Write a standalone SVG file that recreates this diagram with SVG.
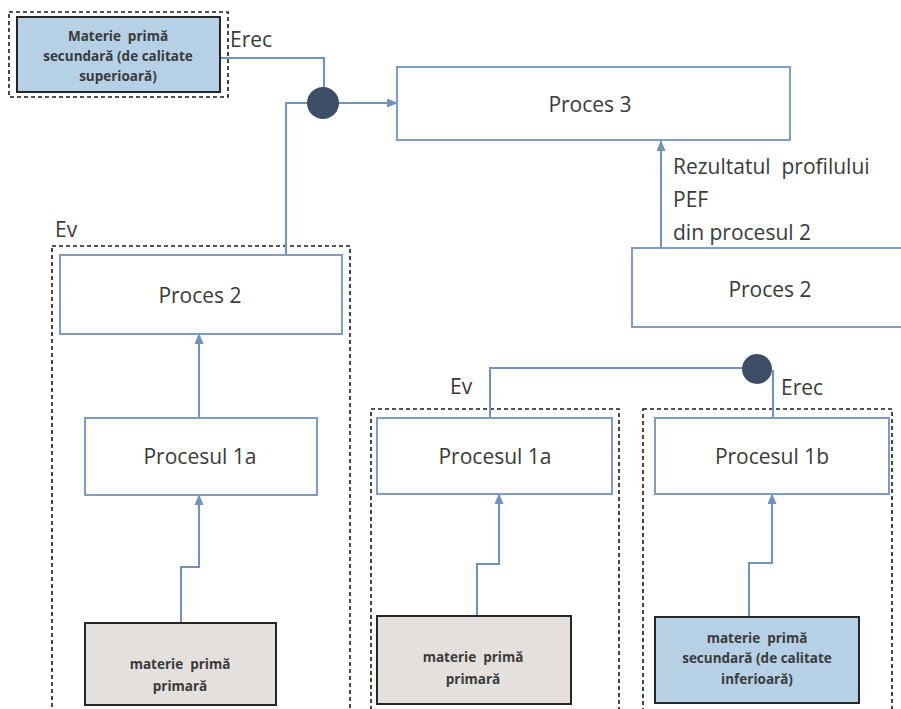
<svg xmlns="http://www.w3.org/2000/svg" width="901" height="709" viewBox="0 0 901 709">
<style>
.bg{fill:#ffffff}
.proc{fill:#ffffff;stroke:#7d9dc4;stroke-width:2}
.dash{fill:none;stroke:#1a1a1a;stroke-width:1.6;stroke-dasharray:4 3}
.raw{stroke:#262626;stroke-width:2}
.blue{fill:#b6d0e6}
.gray{fill:#e4e0de}
.conn{fill:none;stroke:#6f93c0;stroke-width:2}
.dot{fill:#3c4e66}
.big{font-family:"Open Sans","Liberation Sans",sans-serif;font-size:21px;fill:#3a3a3a;text-anchor:middle}
.lbl{font-family:"Open Sans","Liberation Sans",sans-serif;font-size:21px;fill:#3a3a3a}
.small{font-family:"Open Sans","Liberation Sans",sans-serif;font-size:13.5px;font-weight:bold;fill:#3a3a3a;text-anchor:middle}
.pre{white-space:pre}
</style>
<defs>
<marker id="arr" markerWidth="11" markerHeight="9" refX="10" refY="4.5" orient="auto" markerUnits="userSpaceOnUse">
<path d="M0,0 L11,4.5 L0,9 z" fill="#6f93c0"/>
</marker>
</defs>
<rect class="bg" x="0" y="0" width="901" height="709"/>

<g id="containers">
<rect class="dash" x="9" y="12" width="219" height="85"/>
<rect class="dash" x="52" y="246" width="298" height="475"/>
<rect class="dash" x="371" y="409" width="248" height="312"/>
<rect class="dash" x="643" y="409" width="249" height="312"/>
</g>

<g id="connectors">
<path class="conn" d="M217,58 H324 V88"/>
<path class="conn" d="M286,255 V103 H308"/>
<path class="conn" d="M339,103 H397" marker-end="url(#arr)"/>
<path class="conn" d="M661,248 V141" marker-end="url(#arr)"/>
<path class="conn" d="M199,418 V334" marker-end="url(#arr)"/>
<path class="conn" d="M181,637 V567 H199 V495" marker-end="url(#arr)"/>
<path class="conn" d="M490,418 V368 H742"/>
<path class="conn" d="M477,635 V564 H499 V494" marker-end="url(#arr)"/>
<path class="conn" d="M773,418 V370"/>
<path class="conn" d="M749,620 V563 H772 V494" marker-end="url(#arr)"/>
<circle class="dot" cx="323" cy="103" r="16"/>
<circle class="dot" cx="757" cy="369" r="15"/>
</g>

<g id="n_mps_sup">
<rect class="blue raw" x="17" y="17" width="203" height="75"/>
<text class="small pre" x="118" y="41">Materie  primă</text>
<text class="small" x="118" y="61">secundară (de calitate</text>
<text class="small" x="118" y="81">superioară)</text>
</g>

<g id="n_proces3">
<rect class="proc" x="397" y="67" width="393" height="73"/>
<text class="big" x="590" y="112">Proces 3</text>
</g>

<g id="n_proces2_right">
<rect class="proc" x="632" y="248" width="290" height="79"/>
<text class="big" x="770" y="297">Proces 2</text>
</g>

<g id="n_proces2_left">
<rect class="proc" x="60" y="255" width="282" height="79"/>
<text class="big" x="200" y="303">Proces 2</text>
</g>

<g id="n_p1a_left">
<rect class="proc" x="85" y="418" width="232" height="77"/>
<text class="big" x="200" y="464">Procesul 1a</text>
</g>

<g id="n_mpp_left">
<rect class="gray raw" x="85" y="623" width="191" height="82"/>
<text class="small pre" x="180" y="669">materie  primă</text>
<text class="small" x="180" y="691">primară</text>
</g>

<g id="n_p1a_mid">
<rect class="proc" x="377" y="418" width="235" height="76"/>
<text class="big" x="495" y="464">Procesul 1a</text>
</g>

<g id="n_mpp_mid">
<rect class="gray raw" x="377" y="616" width="194" height="88"/>
<text class="small pre" x="473" y="662">materie  primă</text>
<text class="small" x="473" y="684">primară</text>
</g>

<g id="n_p1b">
<rect class="proc" x="655" y="418" width="234" height="76"/>
<text class="big" x="772" y="464">Procesul 1b</text>
</g>

<g id="n_mps_inf">
<rect class="blue raw" x="655" y="617" width="204" height="86"/>
<text class="small pre" x="757" y="643">materie  primă</text>
<text class="small" x="757" y="663">secundară (de calitate</text>
<text class="small" x="757" y="684">inferioară)</text>
</g>

<g id="labels">
<text class="lbl" x="230" y="47">Erec</text>
<text class="lbl" x="55" y="237">Ev</text>
<text class="lbl" x="450" y="394">Ev</text>
<text class="lbl" x="781" y="395">Erec</text>
<text class="lbl pre" x="673" y="174">Rezultatul  profilului</text>
<text class="lbl" x="673" y="207">PEF</text>
<text class="lbl" x="673" y="240">din procesul 2</text>
</g>
</svg>
